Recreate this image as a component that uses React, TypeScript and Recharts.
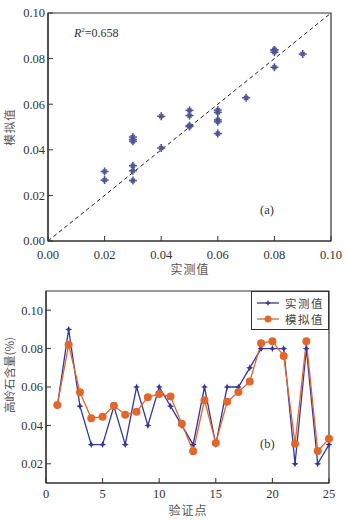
import { ScatterChart, Scatter, LineChart, Line, XAxis, YAxis, ReferenceLine, ReferenceArea, Legend } from "recharts";

// validation points 1..25
const points = [1, 2, 3, 4, 5, 6, 7, 8, 9, 10, 11, 12, 13, 14, 15, 16, 17, 18, 19, 20, 21, 22, 23, 24, 25];
const measured = [0.05, 0.09, 0.05, 0.03, 0.03, 0.05, 0.03, 0.06, 0.04, 0.06, 0.05, 0.04, 0.03, 0.06, 0.03, 0.06, 0.06, 0.07, 0.08, 0.08, 0.08, 0.02, 0.08, 0.02, 0.03];
const simulated = [0.0506, 0.082, 0.0573, 0.0437, 0.0445, 0.0502, 0.0456, 0.0471, 0.0547, 0.0564, 0.055, 0.0408, 0.0265, 0.0531, 0.0308, 0.0523, 0.0574, 0.0628, 0.0828, 0.0838, 0.0762, 0.0305, 0.0838, 0.0267, 0.033];

const scatterTicks = [0, 0.02, 0.04, 0.06, 0.08, 0.1];
const lineXTicks = [0, 5, 10, 15, 20, 25];
const lineYTicks = [0.02, 0.04, 0.06, 0.08, 0.1];

const BLUE = "#33379e";
const ORANGE = "#e2672b";
const MARK = "#4d5893";
const AXIS = "#333";
const NUM_FONT = "'Liberation Serif', 'Times New Roman', serif";
const CJK_FONT = "'Noto Sans CJK SC', sans-serif";

const scatterData = measured.map((m, i) => ({ x: m, y: simulated[i] }));
const lineData = points.map((p, i) => ({ idx: p, measured: measured[i], simulated: simulated[i] }));

const tickStyle = { fill: "#333", fontSize: 12.5, fontFamily: NUM_FONT };
const fmt = (v: number) => v.toFixed(2);

const CrossMark = (props: any) => {
  const { cx, cy } = props;
  if (cx == null || cy == null) return null;
  return (
    <g stroke={MARK} strokeWidth={1.6}>
      <line x1={cx - 4} y1={cy} x2={cx + 4} y2={cy} />
      <line x1={cx} y1={cy - 4} x2={cx} y2={cy + 4} />
      <line x1={cx - 2} y1={cy - 2} x2={cx + 2} y2={cy + 2} />
      <line x1={cx - 2} y1={cy + 2} x2={cx + 2} y2={cy - 2} />
    </g>
  );
};

const starPath = (cx: number, cy: number, r = 3.5, s = 1.1) =>
  `M${cx},${cy - r} L${cx + s},${cy - s} L${cx + r},${cy} L${cx + s},${cy + s} L${cx},${cy + r} L${cx - s},${cy + s} L${cx - r},${cy} L${cx - s},${cy - s} Z`;

const StarDot = (props: any) => {
  const { cx, cy, index } = props;
  if (cx == null || cy == null) return <g key={`s-${index}`} />;
  return <path key={`s-${index}`} d={starPath(cx, cy)} fill={BLUE} />;
};

const legendItems = [
  { name: "实测值", color: BLUE, star: true },
  { name: "模拟值", color: ORANGE, star: false },
];

const LegendBox = () => (
  <div
    style={{
      width: 78,
      height: 39,
      boxSizing: "border-box",
      border: `1px solid ${AXIS}`,
      background: "#fff",
      padding: "3px 0 0 5px",
      fontFamily: CJK_FONT,
      fontSize: 11.5,
      color: "#444",
      lineHeight: "16px",
      whiteSpace: "nowrap",
    }}
  >
    {legendItems.map((it) => (
      <div key={it.name} style={{ display: "flex", alignItems: "center", height: 16 }}>
        <svg width={22} height={10} style={{ marginRight: 6, flexShrink: 0 }}>
          <line x1={0} y1={5} x2={22} y2={5} stroke={it.color} strokeWidth={1.3} />
          {it.star ? <path d={starPath(11, 5, 3, 1)} fill={it.color} /> : <circle cx={11} cy={5} r={3.5} fill={it.color} />}
        </svg>
        <span style={{ letterSpacing: 1.5 }}>{it.name}</span>
      </div>
    ))}
  </div>
);

export default function App() {
  return (
    <div style={{ position: "absolute", left: 0, top: 0, width: 349, height: 521, background: "#fff" }}>
      <div style={{ position: "absolute", left: 0, top: 0 }}>
        <ScatterChart width={349} height={280} margin={{ top: 13, right: 18, bottom: 19, left: 0 }}>
          <XAxis
            type="number"
            dataKey="x"
            domain={[0, 0.1]}
            ticks={scatterTicks}
            tickFormatter={fmt}
            tick={tickStyle}
            tickSize={-5}
            tickMargin={14}
            height={20}
            axisLine={{ stroke: AXIS, strokeWidth: 1.2 }}
            tickLine={{ stroke: AXIS }}
          />
          <YAxis
            type="number"
            dataKey="y"
            domain={[0, 0.1]}
            ticks={scatterTicks}
            tickFormatter={fmt}
            tick={tickStyle}
            tickSize={-5}
            tickMargin={8}
            width={48}
            axisLine={{ stroke: AXIS, strokeWidth: 1.2 }}
            tickLine={{ stroke: AXIS }}
          />
          <ReferenceArea x1={0} x2={0.1} y1={0} y2={0.1} fill="none" fillOpacity={0} stroke={AXIS} strokeWidth={1.2} />
          <ReferenceLine segment={[{ x: 0, y: 0 }, { x: 0.1, y: 0.1 }]} stroke="#222" strokeDasharray="4 3" />
          <Scatter data={scatterData} shape={CrossMark} isAnimationActive={false} />
        </ScatterChart>
      </div>
      <div style={{ position: "absolute", left: 0, top: 280 }}>
        <LineChart width={349} height={241} data={lineData} margin={{ top: 11, right: 20, bottom: 18, left: 0 }}>
          <XAxis
            type="number"
            dataKey="idx"
            domain={[0, 25]}
            ticks={lineXTicks}
            tick={tickStyle}
            tickSize={-5}
            tickMargin={11}
            height={20}
            axisLine={{ stroke: AXIS, strokeWidth: 1.2 }}
            tickLine={{ stroke: AXIS }}
          />
          <YAxis
            type="number"
            domain={[0.01, 0.11]}
            ticks={lineYTicks}
            tickFormatter={fmt}
            tick={tickStyle}
            tickSize={-5}
            tickMargin={8}
            width={46}
            axisLine={{ stroke: AXIS, strokeWidth: 1.2 }}
            tickLine={{ stroke: AXIS }}
          />
          <ReferenceArea x1={0} x2={25} y1={0.01} y2={0.11} fill="none" fillOpacity={0} stroke={AXIS} strokeWidth={1.2} />
          <Line dataKey="measured" stroke={BLUE} strokeWidth={1.3} dot={StarDot} isAnimationActive={false} />
          <Line dataKey="simulated" stroke={ORANGE} strokeWidth={1.3} dot={{ r: 4, fill: ORANGE, stroke: "none" }} isAnimationActive={false} />
          <Legend
            layout="horizontal"
            align="center"
            verticalAlign="middle"
            width={78}
            wrapperStyle={{ left: 251, top: 11, width: 78, height: 39 }}
            content={() => <LegendBox />}
          />
        </LineChart>
      </div>
      <svg width={349} height={521} style={{ position: "absolute", left: 0, top: 0, pointerEvents: "none" }}>
        <text x={74} y={37} fontFamily={NUM_FONT} fontSize={12} fill="#333">
          <tspan fontStyle="italic">R</tspan>
          <tspan fontSize={7} dy={-5}>2</tspan>
          <tspan dy={5}>=0.658</tspan>
        </text>
        <text x={260} y={214} fontFamily={NUM_FONT} fontSize={12.5} fill="#333">(a)</text>
        <text x={260} y={448} fontFamily={NUM_FONT} fontSize={12.5} fill="#333">(b)</text>
        <text x={190} y={274} textAnchor="middle" fontFamily={CJK_FONT} fontSize={12} fill="#555" letterSpacing={1}>实测值</text>
        <text x={188} y={515} textAnchor="middle" fontFamily={CJK_FONT} fontSize={12} fill="#555" letterSpacing={1}>验证点</text>
        <text transform="translate(14,127) rotate(-90)" textAnchor="middle" fontFamily={CJK_FONT} fontSize={11.5} fill="#555" letterSpacing={1}>模拟值</text>
        <text transform="translate(14,375) rotate(-90)" textAnchor="middle" fontFamily={CJK_FONT} fontSize={11.5} fill="#555">高岭石含量(%)</text>
      </svg>
    </div>
  );
}
